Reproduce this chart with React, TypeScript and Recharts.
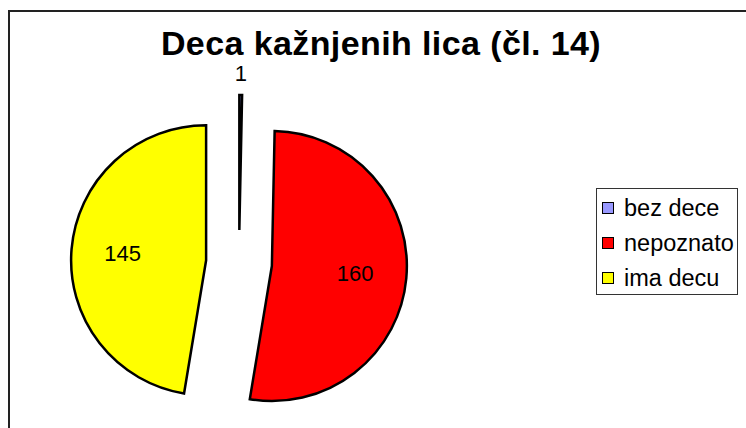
import { Cell, Pie, PieChart } from "recharts";

const CATEGORIES = ["bez dece", "nepoznato", "ima decu"];
const VALUES = [1, 160, 145];
const COLORS = ["#9999FF", "#FF0000", "#FFFF00"];
const TITLE = "Deca kažnjenih lica (čl. 14)";

const FONT = '"Liberation Sans", Arial, sans-serif';
const CENTER_X = 239;
const CENTER_Y = 263;
const RADIUS = 135;
const EXPLODE = 33;
const RAD = Math.PI / 180;

const data = CATEGORIES.map((name, i) => ({ name, value: VALUES[i] }));
const total = VALUES.reduce((a, b) => a + b, 0);

// mid angle of each slice in recharts degrees (start 90, clockwise)
const midAngles = VALUES.map((v, i) => {
  const before = VALUES.slice(0, i).reduce((a, b) => a + b, 0);
  return 90 - ((before + v / 2) / total) * 360;
});

function makeLabel(k: number) {
  return (props: any) => {
    if (props.index !== k) return null;
    const small = props.value / total < 0.05;
    const r = small ? props.outerRadius + 22 : props.outerRadius * 0.62;
    const x = props.cx + r * Math.cos(-props.midAngle * RAD);
    const y = props.cy + r * Math.sin(-props.midAngle * RAD);
    return (
      <text
        x={x}
        y={y}
        textAnchor="middle"
        dominantBaseline="central"
        fontFamily={FONT}
        fontSize={22}
        fill="#000"
      >
        {props.value}
      </text>
    );
  };
}

export default function App() {
  return (
    <div
      style={{
        position: "absolute",
        left: 0,
        top: 0,
        width: 746,
        height: 428,
        overflow: "hidden",
        background: "#fff",
      }}
    >
      <div
        style={{
          position: "absolute",
          left: 8,
          top: 10,
          width: 900,
          height: 600,
          borderLeft: "2px solid #222",
          borderTop: "2px solid #222",
        }}
      />
      <div
        style={{
          position: "absolute",
          left: 81,
          top: 26,
          width: 600,
          textAlign: "center",
          fontFamily: FONT,
          fontWeight: "bold",
          fontSize: 34,
          letterSpacing: 0.4,
          lineHeight: "34px",
          color: "#000",
          whiteSpace: "nowrap",
        }}
      >
        {TITLE}
      </div>
      <div style={{ position: "absolute", left: 0, top: 0 }}>
        <PieChart width={746} height={428} margin={{ top: 0, right: 0, bottom: 0, left: 0 }}>
          {VALUES.map((_, k) => (
            <Pie
              key={k}
              data={data}
              dataKey="value"
              nameKey="name"
              cx={CENTER_X + EXPLODE * Math.cos(-midAngles[k] * RAD)}
              cy={CENTER_Y + EXPLODE * Math.sin(-midAngles[k] * RAD)}
              innerRadius={0}
              outerRadius={RADIUS}
              startAngle={90}
              endAngle={-270}
              label={makeLabel(k)}
              labelLine={false}
              isAnimationActive={false}
            >
              {data.map((d, i) => (
                <Cell
                  key={d.name}
                  fill={i === k ? COLORS[i] : "transparent"}
                  stroke={i === k ? "#000" : "none"}
                  strokeWidth={2.5}
                />
              ))}
            </Pie>
          ))}
        </PieChart>
      </div>
      <div
        style={{
          position: "absolute",
          left: 596,
          top: 188,
          width: 142,
          height: 107,
          border: "1.5px solid #333",
          fontFamily: FONT,
          fontSize: 23.5,
          color: "#000",
          paddingTop: 1.5,
          boxSizing: "border-box",
        }}
      >
        {CATEGORIES.map((name, i) => (
          <div
            key={name}
            style={{ height: 35, lineHeight: "35px", display: "flex", alignItems: "center", whiteSpace: "nowrap" }}
          >
            <span
              style={{
                display: "inline-block",
                width: 12,
                height: 12,
                marginLeft: 5,
                marginRight: 10,
                background: COLORS[i],
                border: "1.5px solid #000",
                boxSizing: "border-box",
              }}
            />
            {name}
          </div>
        ))}
      </div>
    </div>
  );
}
